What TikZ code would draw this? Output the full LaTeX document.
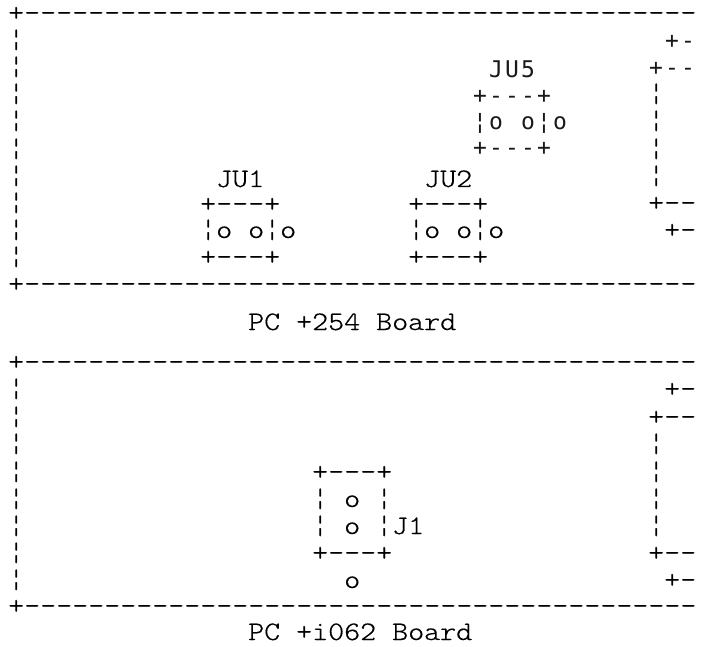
\documentclass[tikz,border=0pt]{standalone}
\usepackage{fontspec}
\newfontfamily\boardfont[Extension=.otf, FakeStretch=1.143, FakeBold=0.4, Ligatures=TeXOff]{lmmonolt10-regular}
\newfontfamily\boardsans[Ligatures=TeXOff]{DejaVu Sans Mono}

\tikzset{
  asc/.style={anchor=base west, inner sep=0pt, text=black,
    font=\boardfont\fontsize{26.67}{27}\selectfont},
  ascs/.style={anchor=base, inner sep=0pt, text=black!90,
    font=\boardsans\fontsize{23}{24}\selectfont},
}

\begin{document}
\begin{tikzpicture}[x=1pt,y=-1pt]
        \useasboundingbox (0,0) rectangle (704,647);
        \clip (0,0) rectangle (704,647);

        %PC +254 board
        \node (pcTop) [asc] at (8,21) {+------------------------------------------};
        \foreach \y in {48,75,102,129,157,184,211,238,265}
            \node (pcL\y) [asc] at (8,\y) {¦};
        \node (pcBot) [asc] at (8,292) {+------------------------------------------};

        \foreach \c/\k in {+/0,-/1}
            \node (pcRA\k) [ascs] at ({672+16*\k},49) {\c};
        \foreach \c/\k in {+/0,-/1,-/2}
            \node (pcRB\k) [ascs] at ({656+16*\k},76) {\c};
        \foreach \y in {102,129,157,184}
            \node (pcR\y) [asc] at (648,\y) {¦};
        \node (pcRC) [asc] at (648,211) {+--};
        \node (pcRD) [asc] at (664,238) {+-};

        %JU5
        \foreach \c/\k in {J/0,U/1,5/2}
            \node (juVlbl\k) [ascs] at ({496+16*\k},78) {\c};
        \foreach \c/\k in {+/0,-/1,-/2,-/3,+/4}
            \node (juVtop\k) [ascs] at ({480+16*\k},104) {\c};
        \foreach \c/\k in {¦/0,o/1,o/3,¦/4,o/5}
            \node (juVpin\k) [ascs] at ({480+16*\k},130) {\c};
        \foreach \c/\k in {+/0,-/1,-/2,-/3,+/4}
            \node (juVbot\k) [ascs] at ({480+16*\k},156) {\c};

        %JU1 and JU2
        \node (juAlbl) [asc] at (216,187) {JU1};
        \node (juAtop) [asc] at (200,212) {+---+};
        \node (juApins) [asc] at (200,238) {¦o o¦o};
        \node (juAbot) [asc] at (200,265) {+---+};

        \node (juBlbl) [asc] at (424,187) {JU2};
        \node (juBtop) [asc] at (408,212) {+---+};
        \node (juBpins) [asc] at (408,238) {¦o o¦o};
        \node (juBbot) [asc] at (408,265) {+---+};

        \node (pcName) [asc] at (248,330) {PC +254 Board};

        %PC +i062 board
        \node (ioTop) [asc] at (8,370) {+------------------------------------------};
        \foreach \y in {397,425,452,480,507,534,561,588}
            \node (ioL\y) [asc] at (8,\y) {¦};
        \node (ioBot) [asc] at (8,614) {+------------------------------------------};

        \node (ioRA) [asc] at (664,397) {+-};
        \node (ioRB) [asc] at (648,425) {+--};
        \foreach \y in {452,480,507,534}
            \node (ioR\y) [asc] at (648,\y) {¦};
        \node (ioRC) [asc] at (648,561) {+--};
        \node (ioRD) [asc] at (664,588) {+-};

        %J1
        \node (jOtop) [asc] at (312,480) {+---+};
        \node (jOpinA) [asc] at (312,507) {¦ o ¦};
        \node (jOpinB) [asc] at (312,534) {¦ o ¦J1};
        \node (jObot) [asc] at (312,561) {+---+};
        \node (jOpinC) [asc] at (344,588) {o};

        \node (ioName) [asc] at (248,640) {PC +i062 Board};

    \end{tikzpicture}
\end{document}
